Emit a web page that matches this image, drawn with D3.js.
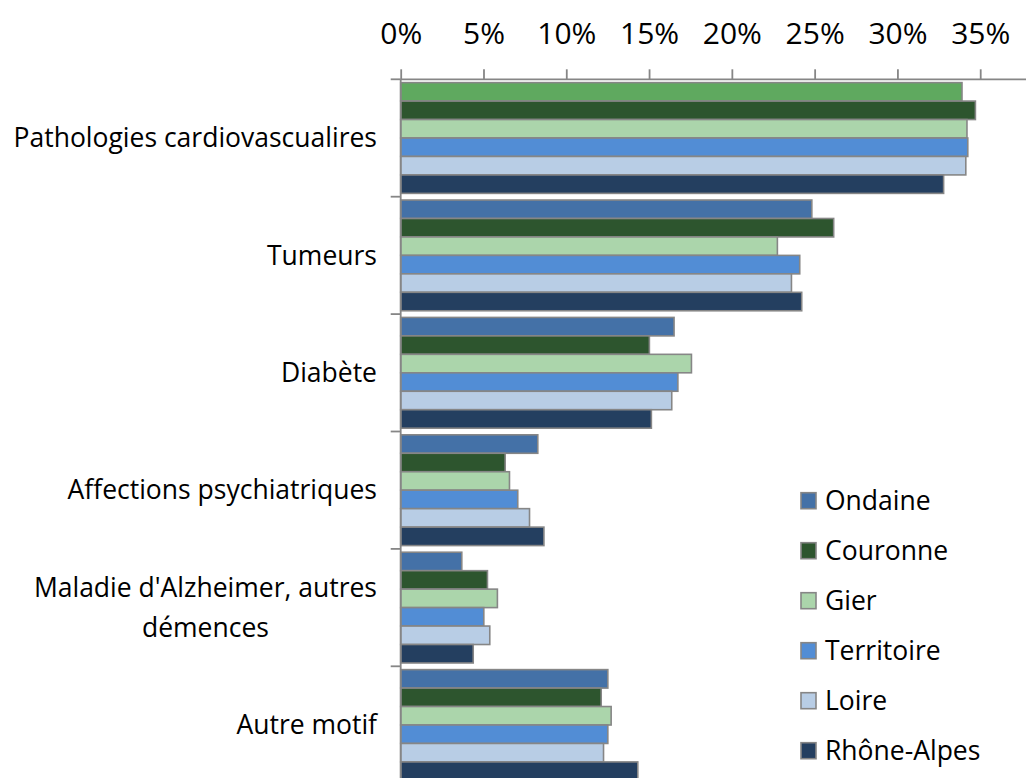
<!DOCTYPE html>
<html>
<head>
<meta charset="utf-8">
<script src="https://cdn.jsdelivr.net/npm/d3@7"></script>
<style>
  html, body { margin: 0; padding: 0; background: #ffffff; }
  svg { display: block; font-family: "Open Sans", "Noto Sans", sans-serif; }
</style>
</head>
<body>
<svg id="chart" width="1026" height="778"></svg>
<script>
// Motifs of long-term illness, share by area
const categories = [
  "Pathologies cardiovascualires",
  "Tumeurs",
  "Diabète",
  "Affections psychiatriques",
  "Maladie d'Alzheimer, autres|démences",
  "Autre motif"
];
const series = ["Ondaine", "Couronne", "Gier", "Territoire", "Loire", "Rhône-Alpes"];

const ondaine    = [0.3390, 0.2483, 0.1651, 0.0828, 0.0369, 0.1251];
const couronne   = [0.3471, 0.2615, 0.1502, 0.0631, 0.0524, 0.1211];
const gier       = [0.3420, 0.2275, 0.1756, 0.0657, 0.0584, 0.1271];
const territoire = [0.3425, 0.2410, 0.1674, 0.0707, 0.0502, 0.1251];
const loire      = [0.3413, 0.2360, 0.1637, 0.0778, 0.0538, 0.1225];
const rhoneAlpes = [0.3279, 0.2422, 0.1514, 0.0865, 0.0438, 0.1432];

const tickValues = [0, 0.05, 0.10, 0.15, 0.20, 0.25, 0.30, 0.35];

const colors = {
  "Ondaine": "#4471a7",
  "Couronne": "#2d552e",
  "Gier": "#abd5ab",
  "Territoire": "#528dd5",
  "Loire": "#b8cde5",
  "Rhône-Alpes": "#243f60"
};
// the cardiovascular Ondaine bar is painted in its own green
const pointColors = { "Ondaine|0": "#5fa95f" };

const values = {
  "Ondaine": ondaine,
  "Couronne": couronne,
  "Gier": gier,
  "Territoire": territoire,
  "Loire": loire,
  "Rhône-Alpes": rhoneAlpes
};

const svg = d3.select("#chart");
const axisColor = "#868686";
const labelSize = "26.5px";

const x = d3.scaleLinear().domain([0, 0.40]).range([400.7, 1063]);
const y = d3.scaleBand().domain(categories).range([79.3, 783.7]).padding(0);
const ySeries = d3.scaleBand().domain(series).range([0, y.bandwidth()])
  .paddingInner(0).paddingOuter(0.18);

// bars
const rows = [];
categories.forEach((c, ci) => {
  series.forEach(s => rows.push({ c, ci, s, v: values[s][ci] }));
});

svg.append("g").selectAll("rect")
  .data(rows)
  .join("rect")
  .attr("x", x(0))
  .attr("y", d => y(d.c) + ySeries(d.s))
  .attr("width", d => x(d.v) - x(0))
  .attr("height", ySeries.bandwidth())
  .attr("fill", d => pointColors[d.s + "|" + d.ci] || colors[d.s])
  .attr("stroke", axisColor)
  .attr("stroke-width", 1.6);

// value axis on top
const xAxis = d3.axisTop(x)
  .tickValues(tickValues)
  .tickFormat(d3.format(".0%"))
  .tickSize(10)
  .tickSizeOuter(0)
  .tickPadding(25);

const gx = svg.append("g")
  .attr("transform", `translate(0,${y.range()[0]})`)
  .call(xAxis);
gx.select(".domain").attr("stroke", axisColor).attr("stroke-width", 1.8)
  .attr("d", `M${x(0)},0H1026`);
gx.selectAll(".tick line").attr("stroke", axisColor).attr("stroke-width", 1.8);
gx.selectAll(".tick text")
  .attr("fill", "#000")
  .style("font-size", "30px")
  .style("font-family", "\"Open Sans\", sans-serif");

// category axis on the left with ticks at band boundaries
const gy = svg.append("g");
gy.append("line")
  .attr("x1", x(0)).attr("x2", x(0))
  .attr("y1", y.range()[0]).attr("y2", y.range()[1])
  .attr("stroke", axisColor).attr("stroke-width", 1.8);
const bounds = categories.map(c => y(c)).concat([y.range()[1]]);
gy.selectAll("line.bt")
  .data(bounds)
  .join("line")
  .attr("class", "bt")
  .attr("x1", x(0) - 10).attr("x2", x(0))
  .attr("y1", d => d).attr("y2", d => d)
  .attr("stroke", axisColor).attr("stroke-width", 1.8);

// category labels: block right edge near the axis, lines centred within the block
const labelRight = 377;
const lineGap = 40;
categories.forEach(c => {
  const lines = c.split("|");
  const g = svg.append("g");
  const texts = lines.map((ln, i) => g.append("text")
    .text(ln)
    .attr("y", y(c) + y.bandwidth() / 2 + (i - (lines.length - 1) / 2) * lineGap)
    .attr("dy", "0.35em")
    .attr("text-anchor", "middle")
    .style("font-size", labelSize)
    .attr("fill", "#000"));
  const maxW = d3.max(texts, t => t.node().getComputedTextLength());
  texts.forEach(t => t.attr("x", labelRight - maxW / 2));
});

// legend
const legend = svg.append("g").attr("transform", "translate(801,492.7)");
const li = legend.selectAll("g")
  .data(series)
  .join("g")
  .attr("transform", (d, i) => `translate(0,${i * 50})`);
li.append("rect")
  .attr("width", 15).attr("height", 16)
  .attr("fill", d => colors[d])
  .attr("stroke", axisColor).attr("stroke-width", 1.6);
li.append("text")
  .attr("x", 24).attr("y", 8)
  .attr("dy", "0.35em")
  .style("font-size", labelSize)
  .attr("fill", "#000")
  .text(d => d);
</script>
</body>
</html>
